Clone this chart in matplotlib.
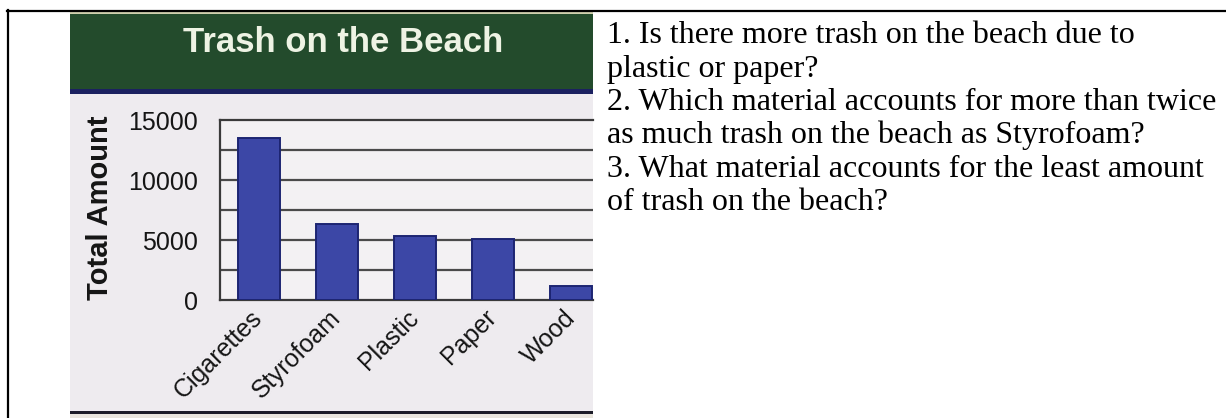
import matplotlib
matplotlib.use("Agg")
import matplotlib.pyplot as plt
from matplotlib.patches import Rectangle
from matplotlib.lines import Line2D

W, H = 1226, 418

# trash counts
materials = ["Cigarettes", "Styrofoam", "Plastic", "Paper", "Wood"]
amounts = [13500, 6300, 5300, 5100, 1200]
yticks = [0, 5000, 10000, 15000]
grid_levels = [2500, 5000, 7500, 10000, 12500]

questions = [
    "1. Is there more trash on the beach due to",
    "plastic or paper?",
    "2. Which material accounts for more than twice",
    "as much trash on the beach as Styrofoam?",
    "3. What material accounts for the least amount",
    "of trash on the beach?",
]

SANS = ["Liberation Sans", "DejaVu Sans"]
SERIF = ["Liberation Serif", "DejaVu Serif"]


def fx(x):
    return x / W


def fy(y):
    return 1 - y / H


def rect(fig, x0, y0, x1, y1, color, z=0):
    fig.patches.append(Rectangle((fx(x0), fy(y1)), fx(x1) - fx(x0), fy(y0) - fy(y1),
                                 transform=fig.transFigure, facecolor=color,
                                 edgecolor="none", zorder=z))


fig = plt.figure(figsize=(W / 100, H / 100), dpi=100)
fig.patch.set_facecolor("white")

# table border (top and left only)
fig.add_artist(Line2D([fx(7), fx(W)], [fy(10.5), fy(10.5)], color="black", lw=1.6))
fig.add_artist(Line2D([fx(7.5), fx(7.5)], [fy(10), fy(H)], color="black", lw=1.6))

# photo of the worksheet chart
rect(fig, 70, 12, 593, 418, "#e9e5dd")
rect(fig, 70, 12, 593, 413, "#eeebef")
rect(fig, 70, 411, 593, 414, "#1c1c28")
rect(fig, 70, 12, 593, 91, "#234b2c")
rect(fig, 70, 12, 593, 14, "#cfcfae")
rect(fig, 70, 89, 593, 94, "#1b2160")

fig.text(fx(343), fy(42), "Trash on the Beach", ha="center", va="center",
         fontsize=25, fontweight="bold", color="#eef3e4", family=SANS)
fig.text(fx(100), fy(208), "Total Amount", ha="center", va="center", rotation=90,
         fontsize=21, fontweight="bold", color="#151515", family=SANS)

ax = fig.add_axes([fx(220), fy(300), fx(593) - fx(220), fy(120) - fy(300)])
ax.set_zorder(2)
ax.set_facecolor("#f3f1f3")
xs = list(range(len(materials)))
ax.bar(xs, amounts, width=0.54, color="#3c47a6", edgecolor="#1d2572", linewidth=1.4, zorder=3)
for g in grid_levels:
    ax.axhline(g, color="#4a4a4a", lw=1.6, zorder=1)
ax.set_xlim(-0.5, 4.28)
ax.set_ylim(0, 15000)
ax.set_yticks(yticks)
ax.set_yticklabels([str(v) for v in yticks], fontsize=18, color="#151515", family=SANS)
ax.tick_params(axis="y", length=0, pad=16)
ax.set_xticks(xs)
ax.set_xticklabels(materials, rotation=45, ha="right", va="center", rotation_mode="anchor",
                   fontsize=18, color="#151515", family=SANS)
ax.tick_params(axis="x", length=0, pad=10)
for side in ["left", "top", "bottom"]:
    ax.spines[side].set_color("#3a3a3a")
    ax.spines[side].set_linewidth(1.6)
ax.spines["right"].set_visible(False)

# questions beside the chart
y0, step = 43, 33.5
for i, line in enumerate(questions):
    fig.text(fx(607), fy(y0 + i * step), line, ha="left", va="baseline",
             fontsize=23, color="black", family=SERIF)

fig.savefig("out.png", dpi=100)
